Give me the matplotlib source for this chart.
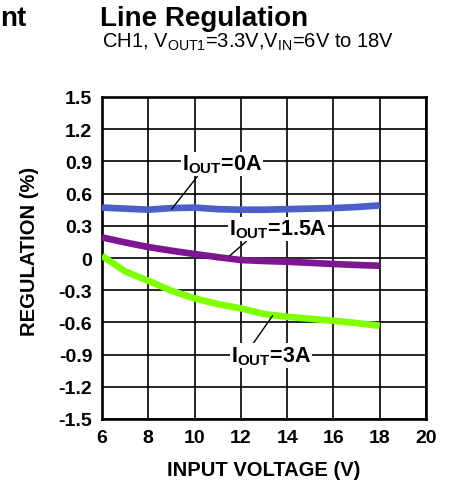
import matplotlib
matplotlib.use("Agg")
import matplotlib.pyplot as plt
import numpy as np

plt.rcParams['font.family'] = ['Liberation Sans', 'DejaVu Sans']
plt.rcParams['mathtext.fontset'] = 'custom'
plt.rcParams['mathtext.rm'] = 'Liberation Sans'
plt.rcParams['mathtext.bf'] = 'Liberation Sans:bold'
plt.rcParams['mathtext.it'] = 'Liberation Sans:italic'

# Data
vin = [6, 7, 8, 9, 10, 11, 12, 13, 14, 15, 16, 17, 18]
reg_0a = [0.47, 0.46, 0.45, 0.465, 0.47, 0.455, 0.45, 0.45, 0.455, 0.46, 0.465, 0.475, 0.49]
reg_1p5a = [0.192, 0.145, 0.102, 0.068, 0.037, 0.008, -0.019, -0.028, -0.035, -0.045, -0.056, -0.065, -0.072]
reg_3a = [0.021, -0.125, -0.212, -0.305, -0.376, -0.429, -0.469, -0.522, -0.548, -0.566, -0.585, -0.606, -0.631]

xticks = [6, 8, 10, 12, 14, 16, 18, 20]
yticks = [1.5, 1.2, 0.9, 0.6, 0.3, 0, -0.3, -0.6, -0.9, -1.2, -1.5]
ytick_labels = ['1.5', '1.2', '0.9', '0.6', '0.3', '0', '-0.3', '-0.6', '-0.9', '-1.2', '-1.5']

W, H = 449, 481
fig = plt.figure(figsize=(W / 100, H / 100), dpi=100)
ax = fig.add_axes([102 / W, 1 - 420 / H, (426 - 102) / W, (420 - 98) / H])

ax.plot(vin, reg_0a, color='#4a5fc9', lw=4.8, solid_capstyle='butt', zorder=3)
ax.plot(vin, reg_1p5a, color='#7d1690', lw=4.8, solid_capstyle='butt', zorder=3)
ax.plot(vin, reg_3a, color='#80ff00', lw=4.8, solid_capstyle='butt', zorder=3)

ax.set_xlim(6, 20)
ax.set_ylim(-1.5, 1.5)
ax.set_xticks(xticks)
ax.set_xticklabels([str(t) for t in xticks], fontsize=14, fontweight='bold')
ax.set_yticks(yticks)
ax.set_yticklabels(ytick_labels, fontsize=14, fontweight='bold')
ax.tick_params(length=0, pad=7)
ax.grid(True, color='black', lw=1.2)
ax.set_axisbelow(True)
for s in ax.spines.values():
    s.set_linewidth(1.9)
    s.set_color('black')

ax.set_xlabel('INPUT VOLTAGE (V)', fontsize=14.5, fontweight='bold', labelpad=10)
ax.set_ylabel('REGULATION (%)', fontsize=14.5, fontweight='bold', va='center')
ax.yaxis.set_label_coords(-0.225, 0.525)

bbox = dict(boxstyle='square,pad=0.05', fc='white', ec='none')
ann_kw = dict(fontsize=15.5, fontweight='bold', ha='center', va='center', bbox=bbox, zorder=5)
ax.annotate(r'$\mathbf{I}_{\mathbf{OUT}}$=0A', xy=(9.01, 0.456), xytext=(11.2, 0.876),
            arrowprops=dict(arrowstyle='-', color='black', lw=1.0, relpos=(0.2, 0.0),
                            shrinkA=0, shrinkB=0), **ann_kw)
ax.annotate(r'$\mathbf{I}_{\mathbf{OUT}}$=1.5A', xy=(11.52, 0.021), xytext=(13.6, 0.27),
            arrowprops=dict(arrowstyle='-', color='black', lw=1.0, relpos=(0.19, 0.0),
                            shrinkA=0, shrinkB=0), **ann_kw)
ax.annotate(r'$\mathbf{I}_{\mathbf{OUT}}$=3A', xy=(13.37, -0.538), xytext=(13.3, -0.91),
            arrowprops=dict(arrowstyle='-', color='black', lw=1.0, relpos=(0.27, 1.0),
                            shrinkA=0, shrinkB=0), **ann_kw)

fig.text(0 / W, 1 - 26 / H, 'nt', fontsize=20, fontweight='bold', va='baseline', ha='left')
fig.text(100 / W, 1 - 26 / H, 'Line Regulation', fontsize=20, fontweight='bold', va='baseline', ha='left')
fig.text(102 / W, 1 - 48 / H, r'CH1, V$_{\mathrm{OUT1}}$=3.3V,V$_{\mathrm{IN}}$=6V to 18V',
         fontsize=14.5, va='baseline', ha='left')

fig.savefig('out.png', dpi=100, facecolor='white')
